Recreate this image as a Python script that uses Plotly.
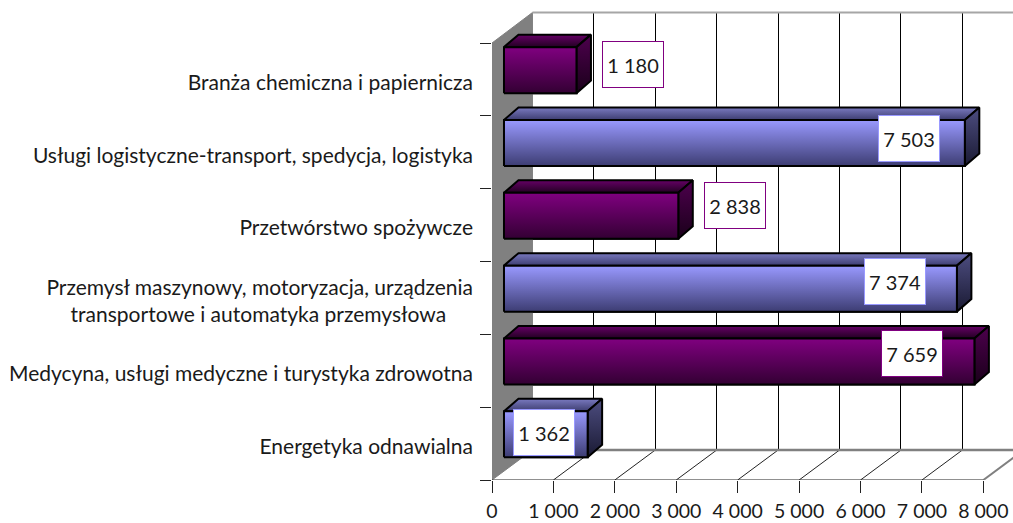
import plotly.graph_objects as go

# ---------- data (bottom to top) ----------
categories = [
    "Energetyka odnawialna",
    "Medycyna, usługi medyczne i turystyka zdrowotna",
    "Przemysł maszynowy, motoryzacja, urządzenia<br>transportowe i automatyka przemysłowa",
    "Przetwórstwo spożywcze",
    "Usługi logistyczne-transport, spedycja, logistyka",
    "Branża chemiczna i papiernicza",
]
values = [1362, 7659, 7374, 2838, 7503, 1180]
value_labels = ["1 362", "7 659", "7 374", "2 838", "7 503", "1 180"]
x_ticks = [0, 1000, 2000, 3000, 4000, 5000, 6000, 7000, 8000]
x_tick_labels = ["0", "1 000", "2 000", "3 000", "4 000", "5 000", "6 000", "7 000", "8 000"]

# ---------- layout constants ----------
W, H = 1013, 523
ML, MB = 491.5, 43
PX_X = 61.48 / 1000          # px per value unit
PX_Y = 72.83                 # px per category band
A = 1 / PX_X                 # value units per px
B = 1 / PX_Y                 # category units per px
XMAX = (W - ML) * A
YMIN, YMAX = -0.5, -0.5 + (H - MB) * B

WALL_DX, WALL_DY = 40.5 * A, 30 * B
BAR_BASE = 12 * A
BAR_H = 46 * B
BAR_UP = 9.3 * B
D_X, D_Y = 14.5 * A, 12.5 * B
OUTLINE = 2

FONT = "Lato"
FS = 20
FS_TICK = 19.5
FS_CAT = 21
TXT = "#1a1a1a"
PURPLE = dict(front=["#330033", "#800080"], top=["#220022", "#660066"], side=["#1a001a", "#4d004d"], edge="#800080")
BLUE = dict(front=["#3d3d73", "#9999ff"], top=["#3d3d70", "#7a7ac0"], side=["#1a1a33", "#4d4d80"], edge="#9999ff")
styles = [BLUE, PURPLE, BLUE, PURPLE, BLUE, PURPLE]
# label centre relative to the end of the bar's front face (px right, px up)
label_shift = [(-44, 2), (-62, 7.5), (-62.4, 7), (56.5, 10), (-56, 4), (56.5, 6)]

fig = go.Figure()
AXES = dict(xaxis="x2", yaxis="y2")


def poly(xs, ys, colors=None, fill=None, line="#000000", width=OUTLINE):
    kw = dict(
        x=xs + xs[:1], y=ys + ys[:1], mode="lines",
        line=dict(color=line, width=width), hoverinfo="skip", showlegend=False, **AXES,
    )
    if colors:
        kw.update(fill="toself", fillgradient=dict(type="vertical", colorscale=[[0, colors[0]], [1, colors[1]]]))
    elif fill:
        kw.update(fill="toself", fillcolor=fill)
    fig.add_trace(go.Scatter(**kw))


def path(xs, ys, color, width):
    fig.add_trace(go.Scatter(x=xs, y=ys, mode="lines", line=dict(color=color, width=width),
                             hoverinfo="skip", showlegend=False, **AXES))


y_back_bottom = YMIN + WALL_DY
y_back_top = YMAX - 12.5 * B

# empty trace so the back-wall subplot (its axis carries the crisp gridlines) is drawn first
fig.add_trace(go.Scatter(x=[None], y=[None], mode="lines", hoverinfo="skip", showlegend=False))

# wall
poly([0, WALL_DX, WALL_DX, 0], [YMIN, y_back_bottom, y_back_top, 5.5], fill="#808080", line="#808080", width=1)

# floor diagonals
dx, dy = [], []
for t in x_ticks[1:-1]:
    dx += [t, t + WALL_DX, None]
    dy += [YMIN, y_back_bottom, None]
path(dx, dy, "#222222", 1)
path([x_ticks[-1], x_ticks[-1] + WALL_DX], [YMIN, y_back_bottom], "#808080", 2)
path([WALL_DX, XMAX], [y_back_top, y_back_top], "#a6a6a6", 2)
path([WALL_DX, XMAX], [y_back_bottom, y_back_bottom], "#808080", 2.5)
path([0, x_ticks[-1]], [YMIN, YMIN], "#222222", 1.2)

# bars: the value-carrying front faces
pos = [i + BAR_UP for i in range(len(values))]
fig.add_trace(go.Bar(
    x=values, y=pos, base=BAR_BASE, width=BAR_H, orientation="h",
    marker=dict(color=[s["edge"] for s in styles], line=dict(color="#000000", width=OUTLINE)),
    hoverinfo="skip", showlegend=False, **AXES,
))
# gradient shading and depth faces
for p, v, s in zip(pos, values, styles):
    x0, x1 = BAR_BASE, BAR_BASE + v
    y0, y1 = p - BAR_H / 2, p + BAR_H / 2
    poly([x0, x0 + D_X, x1 + D_X, x1], [y1, y1 + D_Y, y1 + D_Y, y1], colors=s["top"])
    poly([x1, x1 + D_X, x1 + D_X, x1], [y0, y0 + D_Y, y1 + D_Y, y1], colors=s["side"])
    poly([x0, x1, x1, x0], [y0, y0, y1, y1], colors=s["front"])

# value labels
for i, (v, txt, s, sh) in enumerate(zip(values, value_labels, styles, label_shift)):
    fig.add_annotation(
        x=BAR_BASE + v, y=pos[i], xref="x2", yref="y2", text=txt, showarrow=False,
        xshift=sh[0], yshift=sh[1],
        width=58, height=43, bgcolor="#ffffff", bordercolor=s["edge"], borderwidth=1,
        font=dict(family=FONT, size=FS, color=TXT),
    )

# category tick labels (a two-line name gets one tick per line)
LINE_GAP = 13.5 * B
tv, tt = [], []
for i, c in enumerate(categories):
    if "<br>" in c:
        a, b = c.split("<br>")
        tv += [i + LINE_GAP, i - LINE_GAP]
        tt += [a, b + "\u00a0" * 5]
    else:
        tv.append(i)
        tt.append(c)

plot_h = H - MB
fig.update_layout(
    width=W, height=H, autosize=False,
    margin=dict(l=ML, r=0, t=0, b=MB, pad=0, autoexpand=False),
    paper_bgcolor="#ffffff", plot_bgcolor="rgba(0,0,0,0)",
    barmode="overlay", showlegend=False,
    font=dict(family=FONT, size=FS, color=TXT),
    # back wall: same value scale moved by the depth, only its gridlines are visible
    xaxis=dict(
        domain=[0, 1], anchor="y", range=[-WALL_DX, XMAX - WALL_DX], automargin=False,
        tickmode="array", tickvals=x_ticks[1:], showticklabels=False, ticks="",
        showgrid=True, gridcolor="#000000", gridwidth=1, zeroline=False, showline=False, fixedrange=True,
    ),
    yaxis=dict(
        domain=[30 / plot_h, (plot_h - 12.5) / plot_h], anchor="x", range=[0, 1], automargin=False,
        showgrid=False, showticklabels=False, ticks="", zeroline=False, showline=False, fixedrange=True,
    ),
    xaxis2=dict(
        domain=[0, 1], anchor="y2", range=[0, XMAX], tickmode="array", tickvals=x_ticks, ticktext=x_tick_labels,
        tickfont=dict(family=FONT, size=FS_TICK, color=TXT),
        ticks="outside", ticklen=12, tickwidth=1, tickcolor="#222222", ticklabelstandoff=2, automargin=False,
        showgrid=False, zeroline=False, showline=False, tickangle=0, fixedrange=True,
    ),
    yaxis2=dict(
        domain=[0, 1], anchor="x2", range=[YMIN, YMAX], tickmode="array", tickvals=tv, ticktext=tt,
        tickfont=dict(family=FONT, size=FS_CAT, color=TXT), automargin=False,
        ticks="", showgrid=False, zeroline=False, showline=False, fixedrange=True,
        ticklabelstandoff=18, ticklabelshift=3,
        minor=dict(ticks="outside", ticklen=11, tickwidth=1, tickcolor="#222222", tick0=0.5, dtick=1, showgrid=False),
    ),
)

fig.write_html("out.html", post_script="document.body.style.margin='0';", config={"displayModeBar": False})
